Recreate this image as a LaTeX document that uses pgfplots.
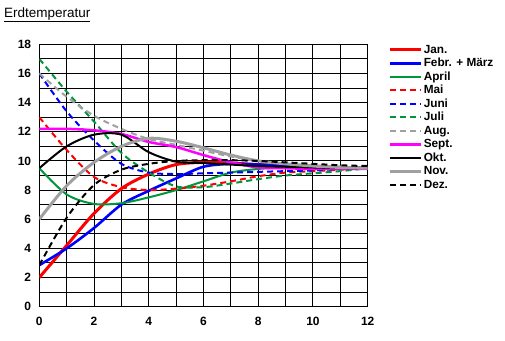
\documentclass[border=0pt]{standalone}
\usepackage{pgfplots}
\pgfplotsset{compat=1.18}
\usepackage{fontspec}
\setmainfont{Liberation Sans}
\definecolor{xgreen}{RGB}{0,150,60}
\definecolor{xgray}{RGB}{160,160,160}
\definecolor{xmag}{RGB}{255,0,255}
\definecolor{xred}{RGB}{255,0,0}
\definecolor{xblue}{RGB}{0,0,255}
\begin{document}
\begin{tikzpicture}[x=1pt,y=1pt]
\path[use as bounding box] (0,0) rectangle (505,340);
\node[anchor=base west, inner sep=0pt, font=\fontsize{13.5}{15}\selectfont] at (4,322.5) {\underline{Erdtemperatur}};
\begin{axis}[at={(39.3pt,33.3pt)}, anchor=south west, scale only axis,
 width=328.4pt, height=262.4pt,
 xmin=0, xmax=12, ymin=0, ymax=18,
 xtick={0,2,...,12}, ytick={0,2,...,18},
 minor xtick={1,3,...,11}, minor ytick={1,3,...,17},
 grid=both,
 major grid style={black, line width=1pt},
 minor grid style={black, line width=1pt},
 axis line style={black, line width=1pt},
 major tick length=0pt, minor tick length=0pt,
 /pgf/number format/assume math mode=true,
 ticklabel style={font=\bfseries\fontsize{12}{14}\selectfont},
 xticklabel style={yshift=-7pt},
 yticklabel style={xshift=-4.6pt},
 legend style={at={(1.062,1.005)}, anchor=north west, draw=none, fill=none,
   inner sep=0pt, row sep=0pt,
   font=\bfseries\fontsize{11.8}{13}\selectfont,
   nodes={inner sep=1.5pt, text height=8.5pt, text depth=2pt}},
 legend cell align=left,
 legend image code/.code={\draw[#1] (0pt,0pt) -- (31pt,0pt);},
]
\addplot[xred, line width=3pt, smooth] coordinates {(0,2)(1,4.2)(2,6.4)(3,8.1)(4,9.1)(5,9.75)(6,9.9)(7,9.85)(8,9.75)(9,9.65)(10,9.6)(11,9.55)(12,9.5)};
\addlegendentry{Jan.}
\addplot[xblue, line width=2.6pt, smooth] coordinates {(0,2.85)(1,4.0)(2,5.4)(3,7.0)(4,7.95)(5,8.8)(6,9.6)(7,9.8)(8,9.75)(9,9.7)(10,9.6)(11,9.55)(12,9.5)};
\addlegendentry{Febr. + März}
\addplot[xgreen, line width=2pt, smooth] coordinates {(0,9.5)(1,7.7)(2,7.05)(3,7.1)(4,7.5)(5,8.0)(6,8.6)(7,9.2)(8,9.45)(9,9.55)(10,9.6)(11,9.55)(12,9.5)};
\addlegendentry{April}
\addplot[xred, line width=2pt, dash pattern=on 6pt off 4pt, smooth] coordinates {(0,13)(1,10.75)(2,8.9)(3,8.2)(4,8.0)(5,8.1)(6,8.3)(7,8.6)(8,8.95)(9,9.2)(10,9.3)(11,9.4)(12,9.5)};
\addlegendentry{Mai}
\addplot[xblue, line width=2pt, dash pattern=on 6pt off 4pt, smooth] coordinates {(0,16)(1,13.4)(2,11.4)(3,9.8)(4,9.2)(5,9.1)(6,9.15)(7,9.2)(8,9.25)(9,9.3)(10,9.35)(11,9.45)(12,9.5)};
\addlegendentry{Juni}
\addplot[xgreen, line width=2pt, dash pattern=on 6pt off 4pt, smooth] coordinates {(0,17)(1,14.75)(2,12.7)(3,10.55)(4,9.2)(5,8.25)(6,8.2)(7,8.45)(8,8.75)(9,9.0)(10,9.15)(11,9.3)(12,9.5)};
\addlegendentry{Juli}
\addplot[xgray, line width=2pt, dash pattern=on 6pt off 4pt, smooth] coordinates {(0,16)(1,14.4)(2,13.1)(3,12.2)(4,11.5)(5,11.1)(6,10.7)(7,10.3)(8,10.0)(9,9.8)(10,9.7)(11,9.6)(12,9.5)};
\addlegendentry{Aug.}
\addplot[xmag, line width=2.5pt, smooth] coordinates {(0,12.2)(1,12.2)(2,12.1)(3,11.85)(4,11.3)(5,10.95)(6,10.4)(7,9.9)(8,9.55)(9,9.5)(10,9.45)(11,9.45)(12,9.45)};
\addlegendentry{Sept.}
\addplot[black, line width=2pt, smooth] coordinates {(0,9.5)(1,11.0)(2,11.8)(3,11.8)(4,10.6)(5,9.95)(6,9.85)(7,9.75)(8,9.65)(9,9.6)(10,9.55)(11,9.5)(12,9.5)};
\addlegendentry{Okt.}
\addplot[xgray, line width=3pt, smooth] coordinates {(0,6)(1,8.3)(2,9.9)(3,11.0)(4,11.55)(5,11.35)(6,10.9)(7,10.4)(8,10.0)(9,9.8)(10,9.65)(11,9.55)(12,9.5)};
\addlegendentry{Nov.}
\addplot[black, line width=2pt, dash pattern=on 6pt off 4pt, smooth] coordinates {(0,2.85)(1,6.1)(2,8.35)(3,9.4)(4,9.8)(5,10.0)(6,10.05)(7,10.05)(8,10.0)(9,9.9)(10,9.8)(11,9.7)(12,9.65)};
\addlegendentry{Dez.}
\end{axis}
\end{tikzpicture}
\end{document}
